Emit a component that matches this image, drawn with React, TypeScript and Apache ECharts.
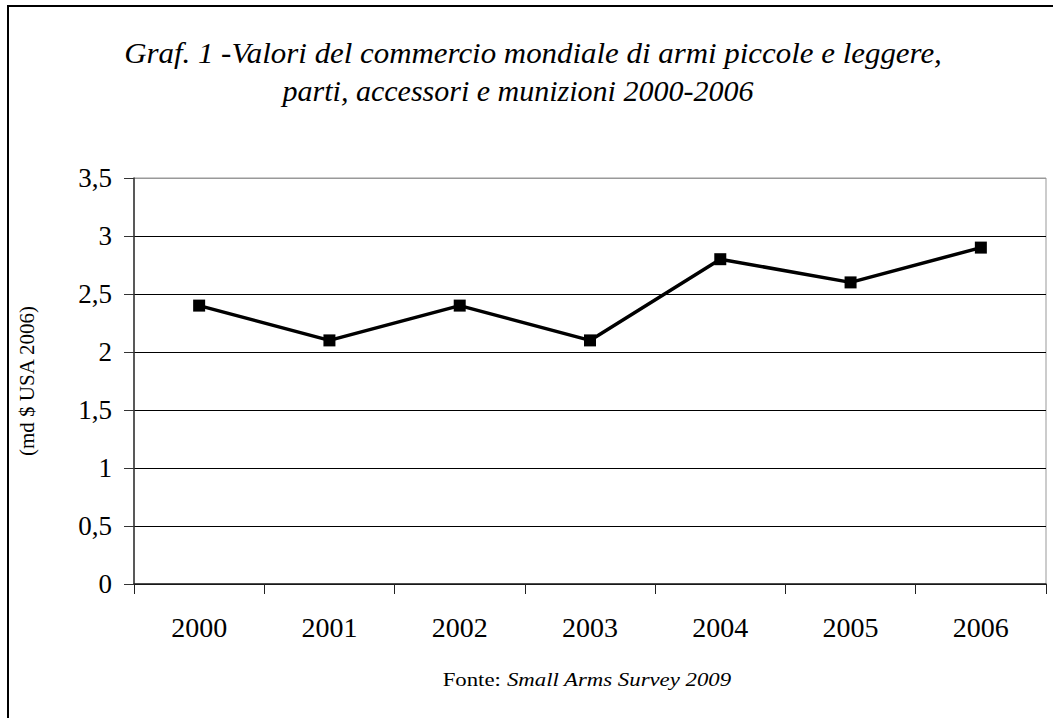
import React, { useEffect, useRef } from "react";
import * as echarts from "echarts";

const years = ["2000", "2001", "2002", "2003", "2004", "2005", "2006"];
const values = [2.4, 2.1, 2.4, 2.1, 2.8, 2.6, 2.9];
const titleLine1 = "Graf. 1 -Valori del commercio mondiale di armi piccole e leggere,";
const titleLine2 = "parti, accessori e munizioni 2000-2006";
const yAxisName = "(md $ USA 2006)";
const sourceLabel = "Fonte: ";
const sourceText = "Small Arms Survey 2009";

const SERIF = "Liberation Serif";

export default function App() {
  const ref = useRef<HTMLDivElement>(null);
  useEffect(() => {
    if (!ref.current) return;
    const chart = echarts.init(ref.current, null, { renderer: "svg" });
    chart.setOption({
      animation: false,
      backgroundColor: "#ffffff",
      textStyle: { fontFamily: SERIF },
      grid: {
        left: 134,
        right: 7,
        top: 178,
        bottom: 134,
        show: true,
        borderColor: "#999999",
        borderWidth: 1,
        backgroundColor: "transparent",
      },
      xAxis: {
        type: "category",
        data: years,
        boundaryGap: true,
        axisLine: { show: true, lineStyle: { color: "#222", width: 1.5 } },
        axisTick: { show: true, interval: 0, length: 10, lineStyle: { color: "#222" } },
        axisLabel: { color: "#000", fontSize: 28, fontFamily: SERIF, margin: 29, interval: 0 },
        splitLine: { show: false },
      },
      yAxis: {
        type: "value",
        min: 0,
        max: 3.5,
        interval: 0.5,
        name: yAxisName,
        nameLocation: "middle",
        nameGap: 97,
        nameRotate: 90,
        nameTextStyle: { color: "#000", fontSize: 21, fontFamily: SERIF },
        axisLine: { show: true, lineStyle: { color: "#333", width: 1.5 } },
        axisTick: { show: true, length: 10, lineStyle: { color: "#333" } },
        axisLabel: {
          color: "#000",
          fontSize: 27,
          fontFamily: SERIF,
          margin: 22,
          formatter: (v: number) => String(v).replace(".", ","),
        },
        splitLine: {
          show: true,
          lineStyle: {
            color: ["#000", "#000", "#000", "#000", "#000", "#000", "#000", "#999"],
            width: 1,
          },
        },
      },
      series: [
        {
          type: "line",
          data: values,
          symbol: "rect",
          symbolSize: 12,
          lineStyle: { color: "#000", width: 3.5 },
          itemStyle: { color: "#000" },
          z: 5,
        },
      ],
      graphic: [
        {
          type: "rect",
          shape: { x: 8, y: 6, width: 1100, height: 800 },
          style: { fill: "none", stroke: "#000", lineWidth: 2 },
          silent: true,
        },
        {
          type: "text",
          x: 533,
          y: 68,
          scaleX: 1.03,
          style: {
            text: titleLine1,
            fontFamily: SERIF,
            fontStyle: "italic",
            fontSize: 30,
            fill: "#000",
            align: "center",
            verticalAlign: "bottom",
          },
        },
        {
          type: "text",
          x: 518,
          y: 105,
          style: {
            text: titleLine2,
            fontFamily: SERIF,
            fontStyle: "italic",
            fontSize: 30,
            fill: "#000",
            align: "center",
            verticalAlign: "bottom",
          },
        },
        {
          type: "text",
          x: 587,
          y: 680,
          scaleX: 1.2,
          style: {
            text: `{a|${sourceLabel}}{b|${sourceText}}`,
            rich: {
              a: { fontFamily: SERIF, fontSize: 19, color: "#000" },
              b: { fontFamily: SERIF, fontSize: 19, fontStyle: "italic", color: "#000" },
            },
            align: "center",
            verticalAlign: "middle",
          },
        },
      ],
    });
    return () => chart.dispose();
  }, []);
  return (
    <div
      ref={ref}
      style={{ position: "fixed", left: 0, top: 0, width: 1053, height: 718 }}
    />
  );
}
